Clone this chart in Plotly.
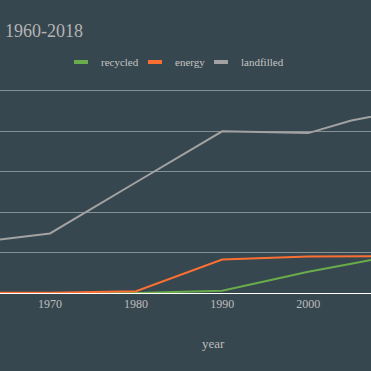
import plotly.graph_objects as go

years = [1960, 1970, 1980, 1990, 2000, 2005, 2010]
recycled = [0, 0, 0, 2.8, 26.2, 36.2, 46.3]
energy = [0, 0.4, 2.1, 41.4, 45.1, 45.3, 45.5]
landfilled = [60.6, 73.7, 137.0, 200.0, 197.8, 213.4, 223.6]
x_ticks = [1970, 1980, 1990, 2000]
series = [("recycled", recycled, "#6aac4c"), ("energy", energy, "#fb6f33"), ("landfilled", landfilled, "#a2a2a2")]

BG = "#37474f"
FONT = "Liberation Serif"
W = 371
legend_left_px = [61, 135, 201]

fig = go.Figure()
for name, vals, col in series:
    fig.add_trace(go.Scatter(x=years, y=vals, mode="lines", name=name,
                             line=dict(color=col, width=2), showlegend=False))

legend_names = ["legend", "legend2", "legend3"]
for (name, vals, col), lg in zip(series, legend_names):
    fig.add_trace(go.Scatter(x=[None], y=[None], mode="markers", name=name, legend=lg,
                             marker=dict(symbol="line-ew", size=10, line=dict(color=col, width=4)),
                             showlegend=True))

legend_style = dict(orientation="h", xanchor="left", yref="container", y=1-62/W,
                    yanchor="middle", font=dict(family=FONT, size=11, color="#c4c4c4"),
                    bgcolor="rgba(0,0,0,0)", itemwidth=30, borderwidth=0)

fig.update_layout(
    width=W, height=W,
    paper_bgcolor=BG, plot_bgcolor=BG,
    margin=dict(l=0, r=0, t=75, b=78),
    font=dict(family=FONT, color="#bdbdbd", size=12),
    title=dict(text="1960-2018", x=5/W, xanchor="left", y=1-31/W, yanchor="middle",
               font=dict(family=FONT, size=18, color="#b4b4b4")),
    legend=dict(x=legend_left_px[0]/W, **legend_style),
    legend2=dict(x=legend_left_px[1]/W, **legend_style),
    legend3=dict(x=legend_left_px[2]/W, **legend_style),
    xaxis=dict(range=[1964.19, 2007.29], tickvals=x_ticks, showgrid=False, zeroline=False,
               showline=True, linecolor="#ffffff", linewidth=1, ticks="",
               tickfont=dict(family=FONT, size=12, color="#bdbdbd")),
    yaxis=dict(range=[0, 267.8], dtick=50, showticklabels=False, showgrid=True,
               gridcolor="rgba(255,255,255,0.4)", gridwidth=1, zeroline=False, ticks=""),
    annotations=[dict(text="year", xref="paper", yref="paper", x=213.5/W, y=-51/218,
                      xanchor="center", yanchor="middle", showarrow=False,
                      font=dict(family=FONT, size=13, color="#bdbdbd"))],
)

fig.write_html("out.html", config={"displayModeBar": False},
               post_script="document.body.style.margin='0';document.body.style.overflow='hidden';document.body.style.background='" + BG + "';")
